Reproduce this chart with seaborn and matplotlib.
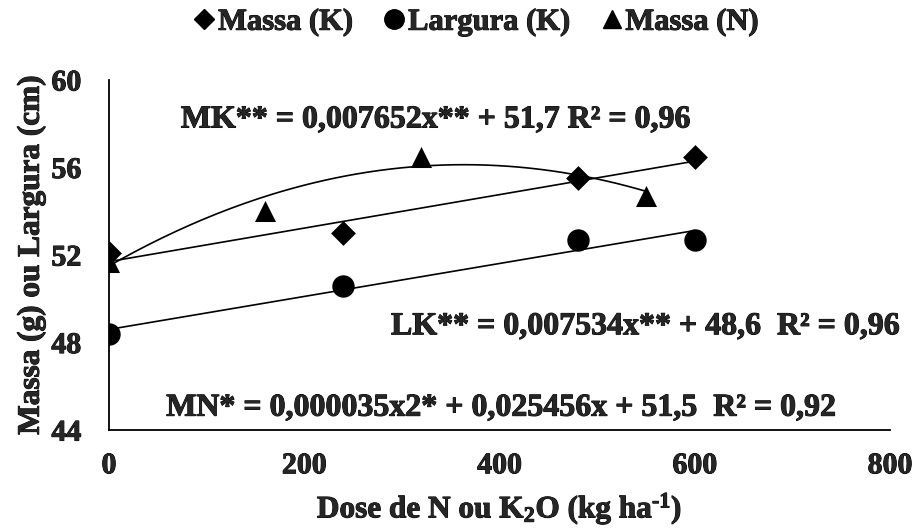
import numpy as np
import pandas as pd
import matplotlib
matplotlib.use("Agg")
import matplotlib.pyplot as plt
import matplotlib.patheffects as pe
import seaborn as sns
from matplotlib.lines import Line2D

# Observed means
dose_mk = [0, 240, 480, 600]
massa_k = [52.1, 53.0, 55.5, 56.5]
dose_lk = [0, 240, 480, 600]
largura_k = [48.4, 50.6, 52.7, 52.7]
dose_mn = [0, 160, 320, 550]
massa_n = [51.7, 54.0, 56.5, 54.7]

series_names = ["Massa (K)", "Largura (K)", "Massa (N)"]

# Regression coefficients (highest degree first)
coef_mk = [0.007652, 51.7]
coef_lk = [0.007534, 48.6]
coef_mn = [-0.000035, 0.025456, 51.5]

eq_mk = "MK** = 0,007652x** + 51,7 R² = 0,96"
eq_lk = "LK** = 0,007534x** + 48,6  R² = 0,96"
eq_mn = "MN* = 0,000035x2* + 0,025456x + 51,5  R² = 0,92"

x_ticks = [0, 200, 400, 600, 800]
y_ticks = [44, 48, 52, 56, 60]

sns.set_theme(style="white")
plt.rcParams["font.family"] = ["Liberation Serif", "DejaVu Serif"]
plt.rcParams["font.weight"] = "bold"
plt.rcParams["mathtext.fontset"] = "custom"
plt.rcParams["mathtext.rm"] = "Liberation Serif:bold"
plt.rcParams["mathtext.it"] = "Liberation Serif:bold"
plt.rcParams["mathtext.bf"] = "Liberation Serif:bold"
plt.rcParams["mathtext.default"] = "regular"

# slightly heavier strokes for all text
heavy = [pe.withStroke(linewidth=0.7, foreground="black")]

df = pd.DataFrame({
    "dose": dose_mk + dose_lk + dose_mn,
    "valor": massa_k + largura_k + massa_n,
    "serie": [series_names[0]] * len(dose_mk)
    + [series_names[1]] * len(dose_lk)
    + [series_names[2]] * len(dose_mn),
})

fig = plt.figure(figsize=(9.18, 5.29), dpi=100)
ax = fig.add_axes([0.1187, 0.187, 0.9695 - 0.1187, 0.8488 - 0.187])

# Trend lines
for coef, xs in [(coef_mk, dose_mk), (coef_lk, dose_lk), (coef_mn, dose_mn)]:
    xx = np.linspace(min(xs), max(xs), 200)
    sns.lineplot(x=xx, y=np.polyval(coef, xx), ax=ax, color="black",
                 linewidth=1.2, zorder=2)

markers = {"Massa (K)": "D", "Largura (K)": "o", "Massa (N)": "^"}
sizes = {"Massa (K)": 160, "Largura (K)": 260, "Massa (N)": 230}
for name in series_names:
    sub = df[df["serie"] == name]
    sns.scatterplot(data=sub, x="dose", y="valor", ax=ax, marker=markers[name],
                    s=sizes[name], color="black", edgecolor="black",
                    linewidth=0, zorder=3, legend=False)

ax.set_xlim(0, 800)
ax.set_ylim(44, 60)
ax.set_xticks(x_ticks)
ax.set_yticks(y_ticks)
ax.tick_params(axis="x", length=0, pad=16, labelsize=21.5)
ax.tick_params(axis="y", length=0, pad=20, labelsize=21.5)
for lab in ax.get_xticklabels() + ax.get_yticklabels():
    lab.set_fontweight("bold")
    lab.set_path_effects(heavy)

for side in ["top", "right"]:
    ax.spines[side].set_visible(False)
for side in ["left", "bottom"]:
    ax.spines[side].set_color("black")
    ax.spines[side].set_linewidth(1.3)

ax.set_xlabel("Dose de N ou K$_2$O (kg ha$^{\\text{-1}}$)", fontsize=22.5,
              fontweight="bold", labelpad=8, path_effects=heavy)
ax.set_ylabel("Massa (g) ou Largura (cm)", fontsize=22.5, fontweight="bold",
              labelpad=4, path_effects=heavy)

for txt, x, y in [(eq_mk, 335, 58.17), (eq_lk, 550, 48.72), (eq_mn, 402, 45.0)]:
    ax.text(x, y, txt, fontsize=23, fontweight="bold", ha="center",
            va="center", path_effects=heavy)

handles = [
    Line2D([], [], linestyle="none", marker="D", color="black", markersize=10),
    Line2D([], [], linestyle="none", marker="o", color="black", markersize=14),
    Line2D([], [], linestyle="none", marker="^", color="black", markersize=13),
]
leg = fig.legend(handles, series_names, loc="center",
                 bbox_to_anchor=(0.517, 0.958), ncol=3, frameon=False,
                 prop={"family": "Liberation Serif", "weight": "bold",
                       "size": 22},
                 handletextpad=0.0, columnspacing=0.9, handlelength=0.9)
for t in leg.get_texts():
    t.set_path_effects(heavy)

fig.savefig("out.png", dpi=100)
